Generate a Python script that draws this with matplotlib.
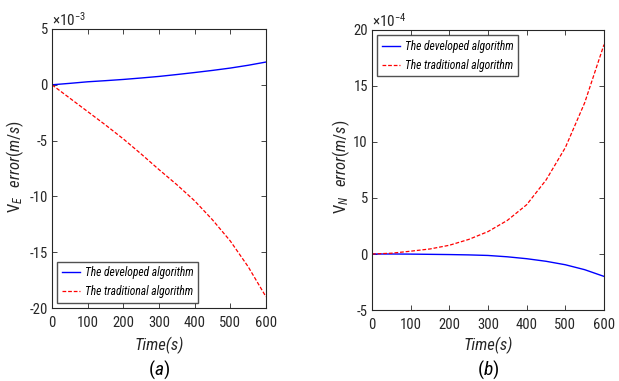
import matplotlib
matplotlib.use("Agg")
import matplotlib.pyplot as plt
from matplotlib import font_manager as fm

_names = {f.name for f in fm.fontManager.ttflist}
FONT = next((n for n in ['Liberation Sans Narrow', 'Roboto Condensed', 'Archivo Narrow',
                         'Liberation Sans'] if n in _names), 'DejaVu Sans')
plt.rcParams['font.family'] = [FONT, 'DejaVu Sans']
plt.rcParams['mathtext.fontset'] = 'custom'
plt.rcParams['mathtext.rm'] = FONT
plt.rcParams['mathtext.it'] = FONT + ':italic'
plt.rcParams['mathtext.bf'] = FONT + ':bold'
plt.rcParams['axes.unicode_minus'] = False

# ---- data ----
time_s = [0, 50, 100, 150, 200, 250, 300, 350, 400, 450, 500, 550, 600]
ve_developed = [0, 0.13, 0.27, 0.37, 0.48, 0.61, 0.75, 0.92, 1.10, 1.29, 1.50, 1.75, 2.04]      # x1e-3
ve_traditional = [0, -1.2, -2.4, -3.6, -4.85, -6.2, -7.6, -8.95, -10.4, -12.1, -14.0, -16.3, -19.0]  # x1e-3
vn_developed = [0, 0, -0.01, -0.03, -0.05, -0.08, -0.13, -0.25, -0.42, -0.65, -0.96, -1.4, -2.0]  # x1e-4
vn_traditional = [0, 0.07, 0.25, 0.45, 0.78, 1.3, 2.0, 3.0, 4.4, 6.6, 9.5, 13.5, 18.7]          # x1e-4
x_ticks = [0, 100, 200, 300, 400, 500, 600]
ve_ticks = [-20, -15, -10, -5, 0, 5]
vn_ticks = [-5, 0, 5, 10, 15, 20]
legend_labels = ["The developed algorithm", "The traditional algorithm"]

W, H = 619, 381
fig = plt.figure(figsize=(W / 100, H / 100), dpi=100)
ax1 = fig.add_axes([52 / W, 1 - 308 / H, (266 - 52) / W, (308 - 29) / H])
ax2 = fig.add_axes([372 / W, 1 - 310 / H, (604 - 372) / W, (310 - 30) / H])

gray = '#262626'
specs = [
    (ax1, ve_developed, ve_traditional, ve_ticks, (-20, 5), r'$\times10^{-3}$',
     r'$\mathrm{V}_{E}\;\;\;\mathit{error(m/s)}$', r'$(\mathit{a})$', 'lower left', 15, 166),
    (ax2, vn_developed, vn_traditional, vn_ticks, (-5, 20), r'$\times10^{-4}$',
     r'$\mathrm{V}_{N}\;\;\;\mathit{error(m/s)}$', r'$(\mathit{b})$', 'upper left', 341, 167),
]
for ax, dev, trad, yt, ylim, mult, ylab, cap, loc, ylx, yly in specs:
    ax.plot(time_s, dev, color='#0000FF', lw=1.0, label=legend_labels[0])
    ax.plot(time_s, trad, color='#FF0000', lw=0.9, ls=(0, (3, 1.5)), label=legend_labels[1])
    ax.set_xlim(0, 600)
    ax.set_ylim(*ylim)
    ax.set_xticks(x_ticks)
    ax.set_yticks(yt)
    ax.tick_params(direction='in', top=True, right=True, length=3.5, width=0.6,
                   labelsize=10.5, colors=gray, labelcolor=gray)
    ax.tick_params(axis='x', pad=6)
    ax.tick_params(axis='y', pad=3)
    for s in ax.spines.values():
        s.set_color(gray)
        s.set_linewidth(0.8)
    ax.text(0.0, 1.0, mult, transform=ax.transAxes, fontsize=11, color=gray,
            ha='left', va='bottom')
    bbox = ax.get_position()
    cx = (bbox.x0 + bbox.x1) / 2
    fig.text(cx, 1 - 345 / H, 'Time(s)', fontsize=12, fontstyle='italic', color=gray,
             ha='center', va='center')
    fig.text(ylx / W, 1 - yly / H, ylab, fontsize=12, color=gray,
             rotation=90, ha='center', va='center')
    fig.text(cx, 1 - 370 / H, cap, fontsize=14, color='black', ha='center', va='center')
    leg = ax.legend(loc=loc, prop={'style': 'italic', 'size': 8.3},
                    frameon=True, fancybox=False, handlelength=1.6, handletextpad=0.4,
                    borderpad=0.4, labelspacing=0.5, borderaxespad=0.45)
    leg.get_frame().set_edgecolor(gray)
    leg.get_frame().set_linewidth(1.0)

fig.savefig('out.png', dpi=100)
